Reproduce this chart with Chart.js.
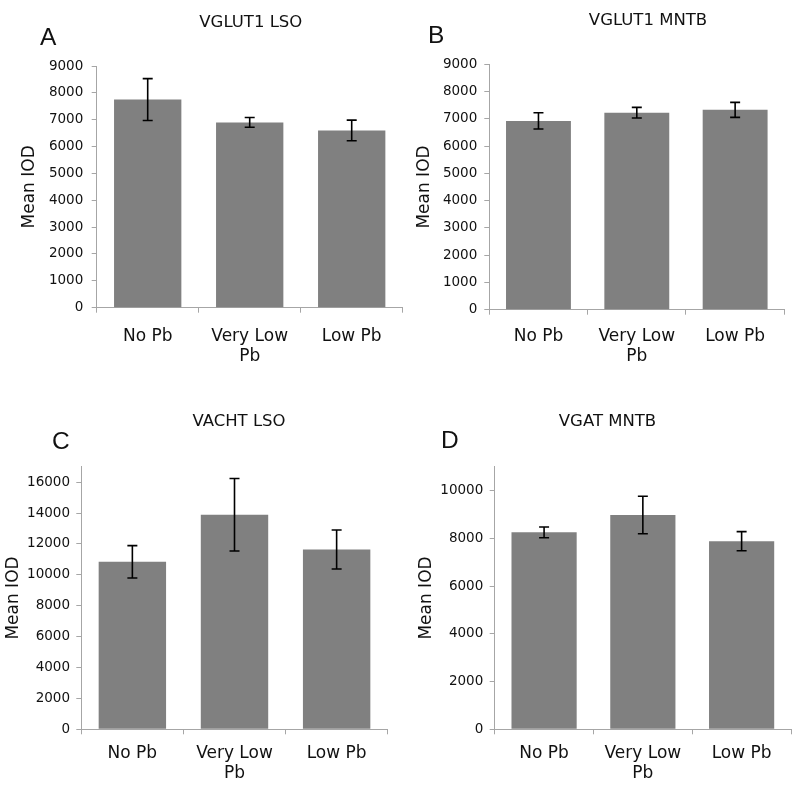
<!DOCTYPE html>
<html><head><meta charset="utf-8">
<script src="https://cdn.jsdelivr.net/npm/chart.js@4/dist/chart.umd.min.js"></script>
<style>
html,body{margin:0;padding:0;background:#fff;}
#wrap{position:relative;width:800px;height:788px;overflow:hidden;background:#fff;}
canvas{position:absolute;display:block;}
</style></head><body><div id="wrap">
<canvas id="cA" width="405" height="394" style="left:0;top:0;width:405px;height:394px"></canvas>
<canvas id="cB" width="395" height="394" style="left:405px;top:0;width:395px;height:394px"></canvas>
<canvas id="cC" width="400" height="394" style="left:0;top:394px;width:400px;height:394px"></canvas>
<canvas id="cD" width="400" height="394" style="left:400px;top:394px;width:400px;height:394px"></canvas>
</div>
<script>
// ---- data ----
const categories = [['No Pb'], ['Very Low', 'Pb'], ['Low Pb']];
const panelTitles = ['VGLUT1 LSO', 'VGLUT1 MNTB', 'VACHT LSO', 'VGAT MNTB'];
const panelLetters = ['A', 'B', 'C', 'D'];
const yAxisLabel = 'Mean IOD';

const vglut1LsoMean = [7750, 6900, 6600];
const vglut1LsoErr  = [780, 180, 385];
const vglut1MntbMean = [6925, 7225, 7330];
const vglut1MntbErr  = [300, 195, 275];
const vachtLsoMean = [10840, 13890, 11640];
const vachtLsoErr  = [1050, 2350, 1260];
const vgatMntbMean = [8250, 8975, 7880];
const vgatMntbErr  = [225, 785, 400];

const ticksA = [0, 1000, 2000, 3000, 4000, 5000, 6000, 7000, 8000, 9000];
const ticksB = [0, 1000, 2000, 3000, 4000, 5000, 6000, 7000, 8000, 9000];
const ticksC = [0, 2000, 4000, 6000, 8000, 10000, 12000, 14000, 16000];
const ticksD = [0, 2000, 4000, 6000, 8000, 10000];
const maxA = 9000, maxB = 9000, maxC = 17000, maxD = 11000;

// ---- plugins ----
const errorBarPlugin = {
  id: 'errorBars',
  afterDatasetsDraw(chart, args, opts) {
    const ctx = chart.ctx;
    const meta = chart.getDatasetMeta(0);
    const ys = chart.scales.y;
    const vals = chart.data.datasets[0].data;
    ctx.save();
    ctx.strokeStyle = '#000';
    ctx.lineWidth = 1.6;
    meta.data.forEach((bar, i) => {
      const e = opts.errors[i];
      const top = ys.getPixelForValue(vals[i] + e);
      const bot = ys.getPixelForValue(vals[i] - e);
      const x = bar.x, cap = 5;
      ctx.beginPath();
      ctx.moveTo(x, top); ctx.lineTo(x, bot);
      ctx.moveTo(x - cap, top); ctx.lineTo(x + cap, top);
      ctx.moveTo(x - cap, bot); ctx.lineTo(x + cap, bot);
      ctx.stroke();
    });
    ctx.restore();
  }
};

const panelTextPlugin = {
  id: 'panelText',
  afterDraw(chart, args, o) {
    const ctx = chart.ctx;
    ctx.save();
    ctx.fillStyle = '#111';
    ctx.textBaseline = 'alphabetic';
    ctx.font = '16.5px "DejaVu Sans"';
    ctx.textAlign = 'center';
    ctx.fillText(o.title, o.tx, o.ty);
    ctx.font = '24.5px "Liberation Sans"';
    ctx.textAlign = 'left';
    ctx.fillText(o.letter, o.lx, o.ly);
    ctx.restore();
  }
};

function makeChart(id, opt) {
  const W = opt.w, H = opt.h, a = opt.area;
  const xH = 60;
  new Chart(document.getElementById(id), {
    type: 'bar',
    data: {
      labels: categories,
      datasets: [{
        data: opt.values,
        backgroundColor: '#808080',
        borderWidth: 0,
        barPercentage: 0.66,
        categoryPercentage: 1.0
      }]
    },
    plugins: [errorBarPlugin, panelTextPlugin],
    options: {
      responsive: false,
      animation: false,
      events: [],
      layout: { padding: { left: 0, top: a.t, right: W - a.r, bottom: H - a.b - xH } },
      plugins: {
        legend: { display: false },
        tooltip: { enabled: false },
        errorBars: { errors: opt.errors },
        panelText: opt.text
      },
      scales: {
        x: {
          offset: true,
          grid: { display: true, offset: true, drawOnChartArea: false, drawTicks: true, tickLength: 5, color: '#a6a6a6' },
          border: { display: true, color: '#a6a6a6', width: 1 },
          ticks: {
            color: '#111', padding: opt.xPad, maxRotation: 0, autoSkip: false,
            font: { family: '"DejaVu Sans"', size: 17, lineHeight: 1.16 }
          },
          afterFit(s) { s.height = xH; }
        },
        y: {
          min: 0, max: opt.max,
          grid: { display: true, drawOnChartArea: false, drawTicks: true, tickLength: 5, color: '#a6a6a6' },
          border: { display: true, color: '#a6a6a6', width: 1 },
          ticks: {
            color: '#111', padding: opt.yPad,
            font: { family: '"DejaVu Sans"', size: 13.5 },
            callback: (v) => String(v)
          },
          afterBuildTicks(s) { s.ticks = opt.ticks.map(v => ({ value: v })); },
          title: {
            display: true, text: yAxisLabel, color: '#111',
            font: { family: '"DejaVu Sans"', size: 17, lineHeight: 1.2 },
            padding: { top: opt.titleCx - 10.2, bottom: 0 }
          },
          afterFit(s) { s.width = a.l; }
        }
      }
    }
  });
}

makeChart('cA', {
  w: 405, h: 394, area: { l: 96.7, r: 402.7, t: 66, b: 307.7 },
  values: vglut1LsoMean, errors: vglut1LsoErr, ticks: ticksA, max: maxA,
  xPad: 14.2, yPad: 8.4, titleCx: 30,
  text: { title: panelTitles[0], tx: 250.8, ty: 26.7, letter: panelLetters[0], lx: 40, ly: 45 }
});
makeChart('cB', {
  w: 395, h: 394, area: { l: 84.3, r: 379.3, t: 64.3, b: 309.7 },
  values: vglut1MntbMean, errors: vglut1MntbErr, ticks: ticksB, max: maxB,
  xPad: 12.2, yPad: 7, titleCx: 20,
  text: { title: panelTitles[1], tx: 243, ty: 25, letter: panelLetters[1], lx: 23, ly: 43.3 }
});
makeChart('cC', {
  w: 400, h: 394, area: { l: 81.3, r: 387.7, t: 72.7, b: 335.3 },
  values: vachtLsoMean, errors: vachtLsoErr, ticks: ticksC, max: maxC,
  xPad: 9.3, yPad: 6.3, titleCx: 13.3,
  text: { title: panelTitles[2], tx: 239, ty: 32, letter: panelLetters[2], lx: 52, ly: 54.5 }
});
makeChart('cD', {
  w: 400, h: 394, area: { l: 94.7, r: 391, t: 72.7, b: 335.3 },
  values: vgatMntbMean, errors: vgatMntbErr, ticks: ticksD, max: maxD,
  xPad: 9.3, yPad: 6.4, titleCx: 27,
  text: { title: panelTitles[3], tx: 207.5, ty: 32, letter: panelLetters[3], lx: 41, ly: 53.7 }
});
</script>
</body></html>
